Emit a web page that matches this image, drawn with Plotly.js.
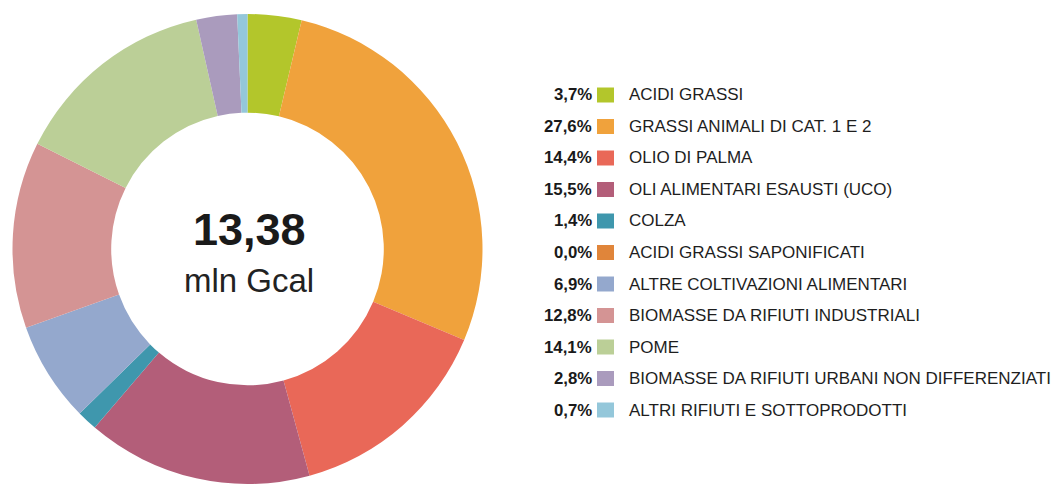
<!DOCTYPE html>
<html>
<head>
<meta charset="utf-8">
<script src="https://cdn.plot.ly/plotly-3.0.1.min.js"></script>
<style>
  html, body { margin: 0; padding: 0; background: #ffffff; overflow: hidden; }
  #chart { width: 1062px; height: 485px; }
</style>
</head>
<body>
<div id="chart"></div>
<script>
// ---- data ----
const categories = [
  "ACIDI GRASSI",
  "GRASSI ANIMALI DI CAT. 1 E 2",
  "OLIO DI PALMA",
  "OLI ALIMENTARI ESAUSTI (UCO)",
  "COLZA",
  "ACIDI GRASSI SAPONIFICATI",
  "ALTRE COLTIVAZIONI ALIMENTARI",
  "BIOMASSE DA RIFIUTI INDUSTRIALI",
  "POME",
  "BIOMASSE DA RIFIUTI URBANI NON DIFFERENZIATI",
  "ALTRI RIFIUTI E SOTTOPRODOTTI"
];
const shares = [3.7, 27.6, 14.4, 15.5, 1.4, 0.0, 6.9, 12.8, 14.1, 2.8, 0.7];
const colors = [
  "#b3c62b", "#f0a23c", "#e96858", "#b35e79", "#3f97ad", "#e0853a",
  "#94a8cd", "#d49494", "#bbcf97", "#aa9bbd", "#94c7da"
];
const totalValue = "13,38";
const totalUnit = "mln Gcal";

// ---- layout helpers ----
const W = 1062, H = 485;
const px = x => x / W;
const py = y => 1 - y / H;

const fmt = v => v.toFixed(1).replace(".", ",") + "%";

const annotations = [];
const shapes = [];

categories.forEach((cat, i) => {
  const yc = 95 + 31.5 * i;
  annotations.push({
    xref: "paper", yref: "paper", x: px(594), y: py(yc),
    xanchor: "right", yanchor: "middle", showarrow: false,
    text: "<b>" + fmt(shares[i]) + "</b>",
    font: { family: "Liberation Sans, Arial, sans-serif", size: 16.8, color: "#1a1a1a" }
  });
  annotations.push({
    xref: "paper", yref: "paper", x: px(627), y: py(yc),
    xanchor: "left", yanchor: "middle", showarrow: false,
    text: cat,
    font: { family: "Liberation Sans, Arial, sans-serif", size: 17, color: "#1e1e1e" }
  });
  shapes.push({
    type: "rect", xref: "paper", yref: "paper",
    x0: px(597), x1: px(614), y0: py(yc - 7.5), y1: py(yc + 7.5),
    fillcolor: colors[i], line: { width: 0 }
  });
});

annotations.push({
  xref: "paper", yref: "paper", x: px(249), y: py(229),
  xanchor: "center", yanchor: "middle", showarrow: false,
  text: "<b>" + totalValue + "</b>",
  font: { family: "Liberation Sans, Arial, sans-serif", size: 45, color: "#1a1a1a" }
});
annotations.push({
  xref: "paper", yref: "paper", x: px(249), y: py(280),
  xanchor: "center", yanchor: "middle", showarrow: false,
  text: totalUnit,
  font: { family: "Liberation Sans, Arial, sans-serif", size: 33, color: "#222222" }
});

const trace = {
  type: "pie",
  labels: categories,
  values: shares,
  marker: { colors: colors, line: { width: 0 } },
  hole: 0.58,
  sort: false,
  direction: "clockwise",
  rotation: 0,
  textinfo: "none",
  hoverinfo: "label+percent",
  showlegend: false,
  domain: { x: [px(12.5), px(482.5)], y: [py(484), py(14)] }
};

const layout = {
  width: W, height: H,
  margin: { l: 0, r: 0, t: 0, b: 0, pad: 0 },
  paper_bgcolor: "#ffffff",
  plot_bgcolor: "#ffffff",
  showlegend: false,
  annotations: annotations,
  shapes: shapes
};

Plotly.newPlot("chart", [trace], layout, { displayModeBar: false, staticPlot: true });
</script>
</body>
</html>
